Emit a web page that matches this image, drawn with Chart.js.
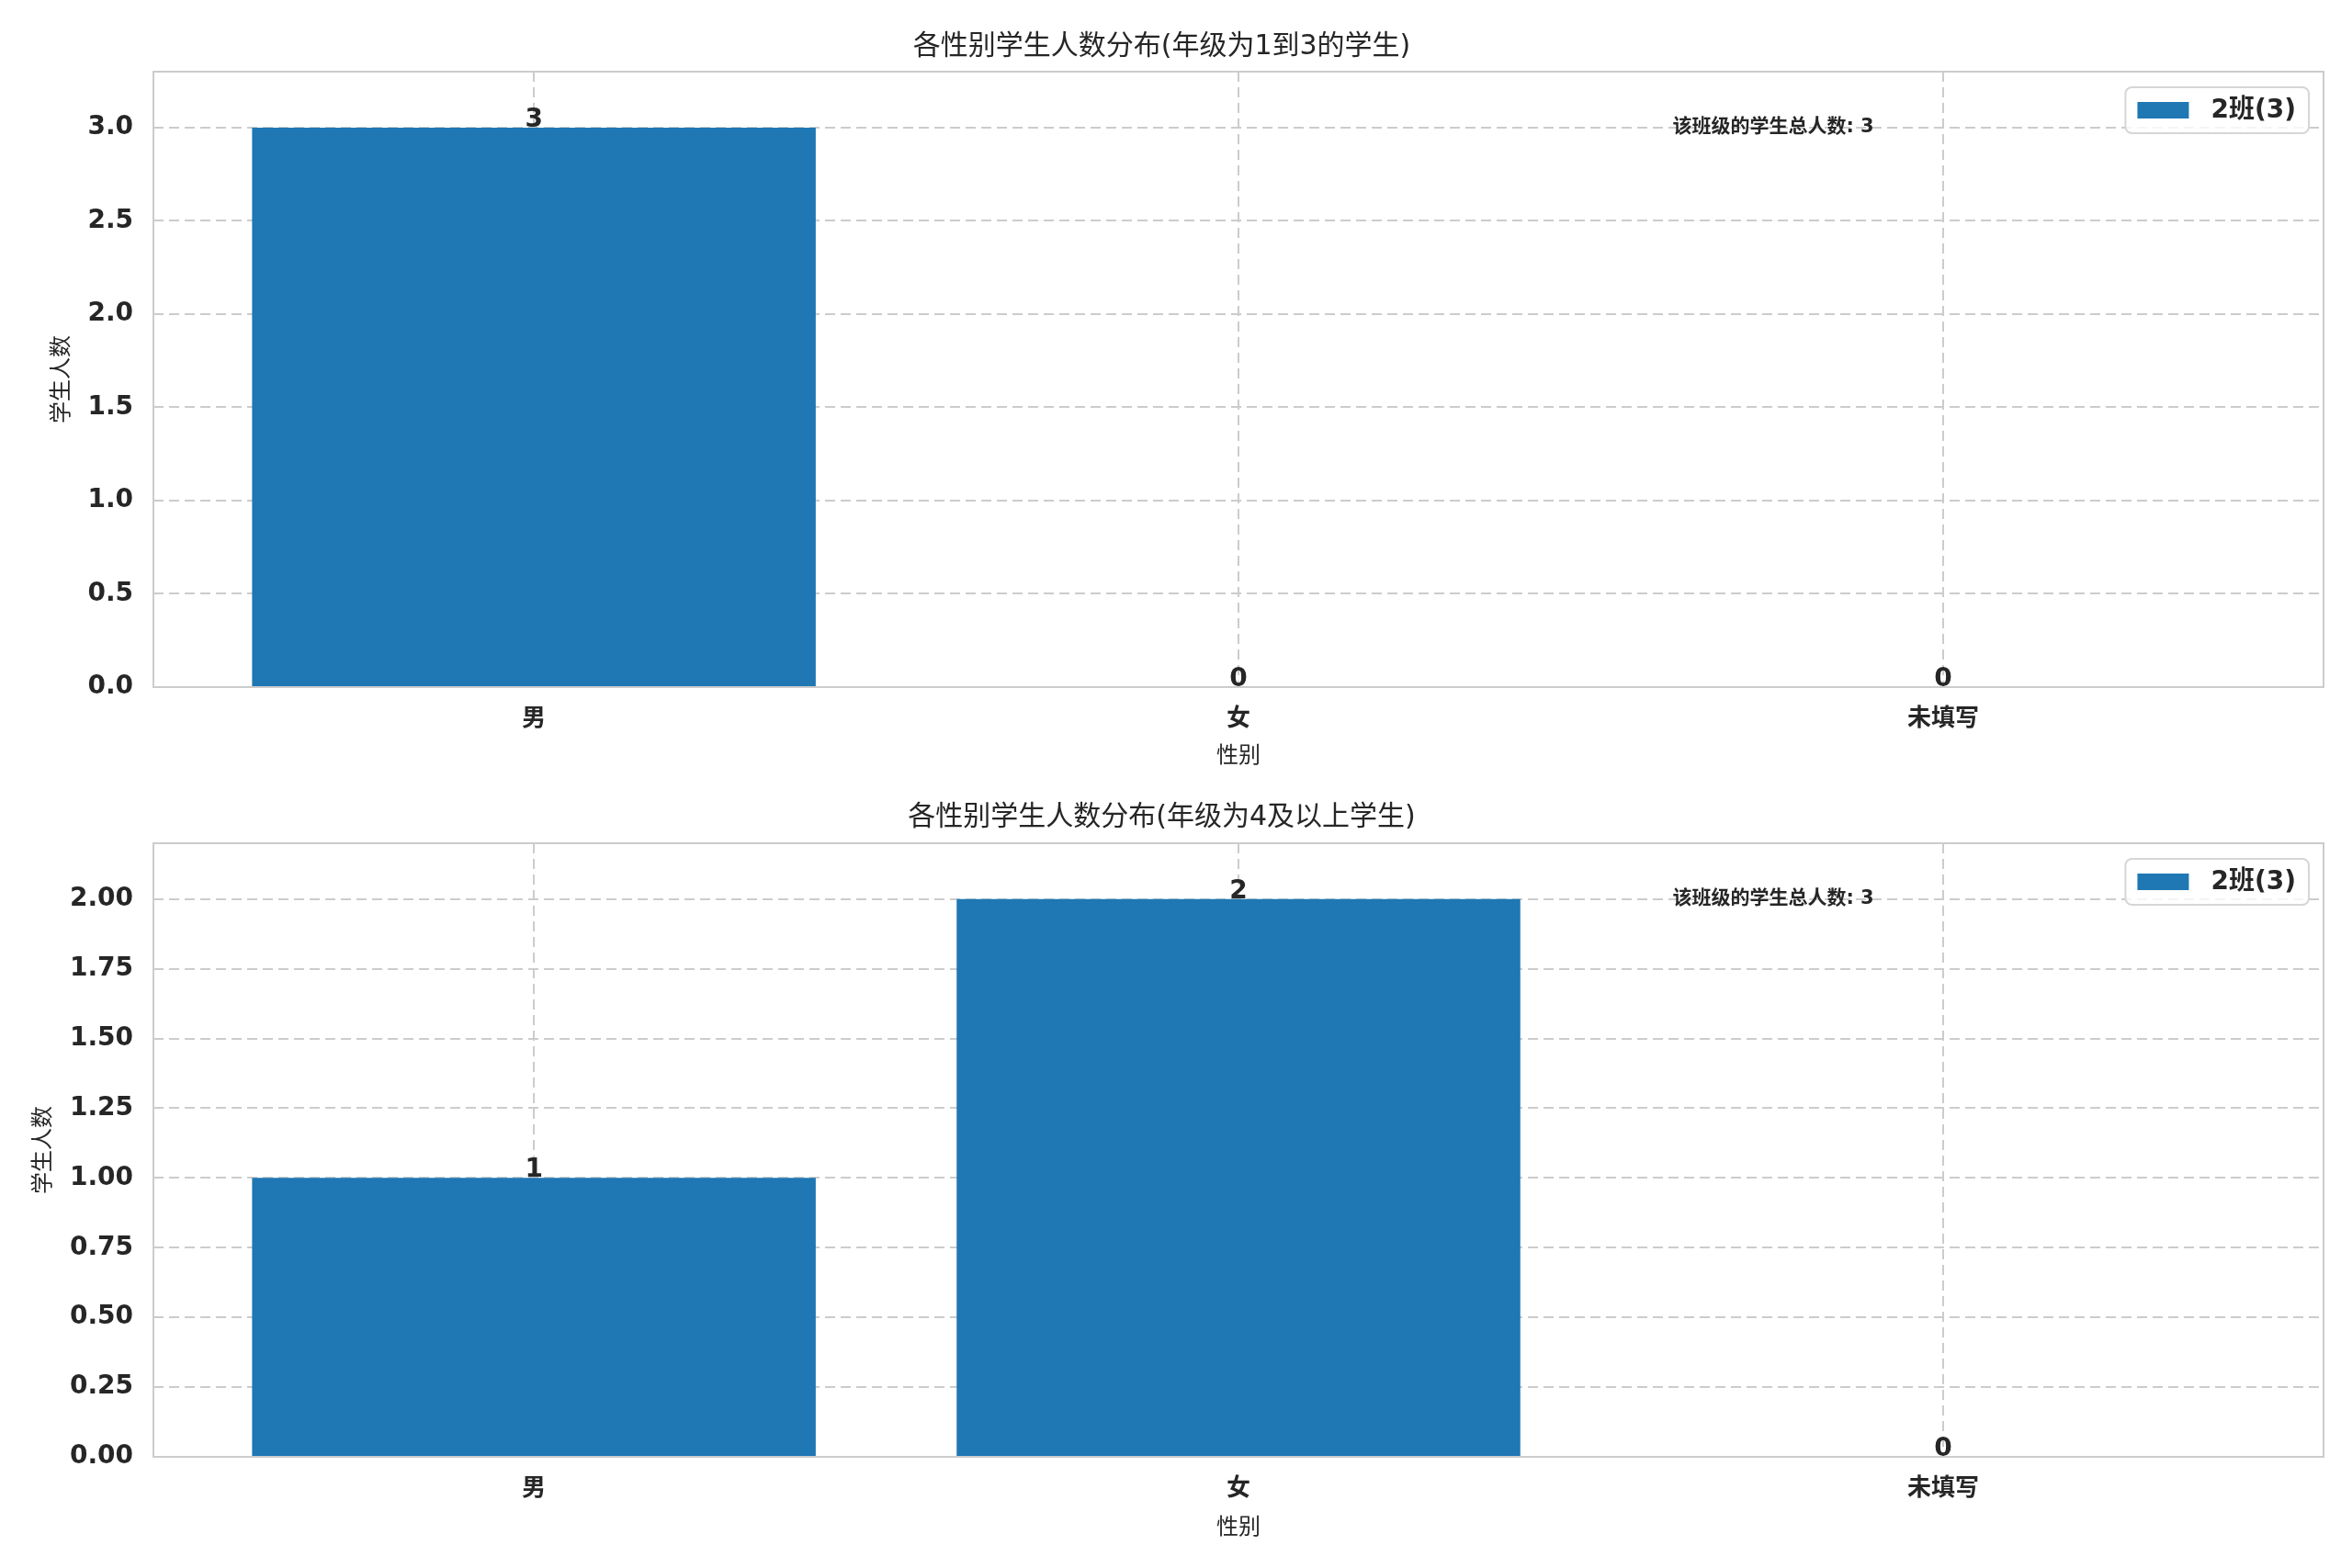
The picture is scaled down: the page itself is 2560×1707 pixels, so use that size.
<!DOCTYPE html>
<html lang="zh">
<head>
<meta charset="utf-8">
<title>各性别学生人数分布</title>
<script src="https://cdn.jsdelivr.net/npm/chart.js@4.4.1/dist/chart.umd.min.js"></script>
<style>
  html, body { margin: 0; padding: 0; background: #fff; }
  #wrap { position: relative; width: 2560px; height: 1707px; }
  canvas { position: absolute; left: 0; }
</style>
</head>
<body>
<div id="wrap">
  <canvas id="chartTop" width="2560" height="840" style="top:0"></canvas>
  <canvas id="chartBottom" width="2560" height="867" style="top:840px"></canvas>
</div>
<script>
const categories = ['男', '女', '未填写'];
const seriesLabel = '2班(3)';
const topValues = [3, 0, 0];
const bottomValues = [1, 2, 0];
const topTicks = [0, 0.5, 1.0, 1.5, 2.0, 2.5, 3.0];
const bottomTicks = [0, 0.25, 0.5, 0.75, 1.0, 1.25, 1.5, 1.75, 2.0];
const topTitle = '各性别学生人数分布(年级为1到3的学生)';
const bottomTitle = '各性别学生人数分布(年级为4及以上学生)';
const xTitle = '性别';
const yTitle = '学生人数';
const noteLabel = '该班级的学生总人数';
const classTotal = 3;

const FONT = "'DejaVu Sans', 'Noto Sans CJK SC', sans-serif";
const TEXT = '#262626';
const GRID = '#cccccc';
const BAR = '#1f77b4';

// frame, value labels, note and legend box (matplotlib look)
const panelDecor = {
    id: 'panelDecor',
    afterDatasetsDraw(chart) {
        const { ctx, chartArea: ca } = chart;
        const meta = chart.getDatasetMeta(0);
        const values = chart.data.datasets[0].data.map(d => d.y);

        ctx.save();
        ctx.fillStyle = TEXT;
        ctx.font = `bold 28px ${FONT}`;
        ctx.textAlign = 'center';
        ctx.textBaseline = 'alphabetic';
        meta.data.forEach((bar, i) => {
            ctx.fillText(String(values[i]), bar.x, bar.y - 1);
        });

        // note text
        const yScale = chart.scales.y;
        ctx.font = `bold 21px ${FONT}`;
        ctx.textAlign = 'left';
        ctx.textBaseline = 'middle';
        ctx.fillText(`${noteLabel}: ${classTotal}`, ca.left + 0.7 * (ca.right - ca.left),
            yScale.getPixelForValue(Math.max(...values)));

        // frame
        ctx.strokeStyle = GRID;
        ctx.lineWidth = 2;
        ctx.setLineDash([]);
        ctx.strokeRect(ca.left, ca.top, ca.right - ca.left, ca.bottom - ca.top);

        // legend
        const label = chart.data.datasets[0].label;
        ctx.font = `bold 28px ${FONT}`;
        const tw = ctx.measureText(label).width;
        const bw = 13 + 56 + 24 + tw + 14, bh = 50;
        const bx = ca.right - 16 - bw, by = ca.top + 17;
        ctx.beginPath();
        ctx.roundRect(bx, by, bw, bh, 7);
        ctx.fillStyle = 'rgba(255,255,255,0.8)';
        ctx.fill();
        ctx.strokeStyle = '#d6d6d6';
        ctx.lineWidth = 2;
        ctx.stroke();
        ctx.fillStyle = BAR;
        ctx.fillRect(bx + 13, by + bh / 2 - 9, 56, 18);
        ctx.fillStyle = TEXT;
        ctx.textAlign = 'left';
        ctx.textBaseline = 'middle';
        ctx.fillText(label, bx + 13 + 56 + 24, by + bh / 2 + 1);
        ctx.restore();
    }
};

function makeChart(id, values, title, tickValues, ymax, digits, lay) {
    const canvas = document.getElementById(id);
    return new Chart(canvas, {
        type: 'bar',
        data: {
            datasets: [{
                label: seriesLabel,
                data: values.map((v, i) => ({ x: i, y: v })),
                backgroundColor: BAR,
                borderWidth: 0,
                barPercentage: 0.8,
                categoryPercentage: 1.0
            }]
        },
        options: {
            responsive: false,
            animation: false,
            devicePixelRatio: 1,
            layout: { padding: { left: 0, right: 31, top: 0, bottom: 0 } },
            plugins: {
                legend: { display: false },
                tooltip: { enabled: false },
                title: {
                    display: true,
                    text: title,
                    color: TEXT,
                    font: { family: FONT, size: 30, weight: 'normal' },
                    padding: lay.titlePad
                }
            },
            scales: {
                x: {
                    type: 'linear',
                    offset: false,
                    min: -0.54,
                    max: 2.54,
                    afterFit: s => { s.height = lay.xHeight; },
                    afterBuildTicks: s => { s.ticks = categories.map((c, i) => ({ value: i })); },
                    ticks: {
                        color: TEXT,
                        padding: 20,
                        font: { family: FONT, size: 26, weight: 'bold' },
                        callback: v => categories[v] ?? ''
                    },
                    grid: { color: GRID, lineWidth: 2, drawTicks: false, offset: false },
                    border: { display: false, dash: [11, 6] },
                    title: {
                        display: true,
                        text: xTitle,
                        color: TEXT,
                        font: { family: FONT, size: 24 },
                        padding: { top: 0, bottom: lay.xTitlePad }
                    }
                },
                y: {
                    min: 0,
                    max: ymax,
                    afterFit: s => { s.width = 167; },
                    afterBuildTicks: s => { s.ticks = tickValues.map(v => ({ value: v })); },
                    ticks: {
                        color: TEXT,
                        padding: 22,
                        font: { family: FONT, size: 28, weight: 'bold' },
                        callback: v => Number(v).toFixed(digits)
                    },
                    grid: { color: GRID, lineWidth: 2, drawTicks: false },
                    border: { display: false, dash: [11, 6] },
                    title: {
                        display: true,
                        text: yTitle,
                        color: TEXT,
                        font: { family: FONT, size: 24 },
                        padding: { top: lay.yTitlePad, bottom: 0 }
                    }
                }
            }
        },
        plugins: [panelDecor]
    });
}

makeChart('chartTop', topValues, topTitle, topTicks, 3.3, 1, {
    titlePad: { top: 33, bottom: 9 },
    xHeight: 92,
    xTitlePad: 2,
    yTitlePad: 53
});

makeChart('chartBottom', bottomValues, bottomTitle, bottomTicks, 2.2, 2, {
    titlePad: { top: 32, bottom: 10 },
    xHeight: 121,
    xTitlePad: 29,
    yTitlePad: 33
});
</script>
</body>
</html>
